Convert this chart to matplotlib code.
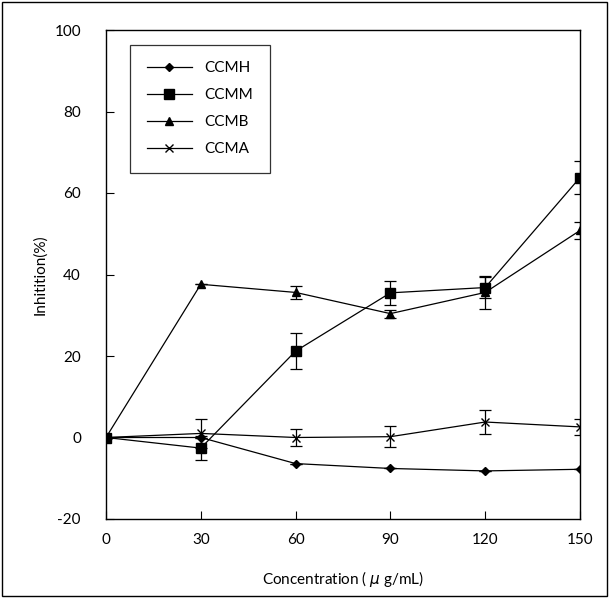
import matplotlib.pyplot as plt
from matplotlib.patches import Rectangle

conc = [0, 30, 60, 90, 120, 150]

ccmh = [0, 0, -6.4, -7.6, -8.2, -7.8]
ccmh_err = [0, 0, 0, 0, 0, 0]
ccmm = [0, -2.6, 21.2, 35.5, 36.8, 63.8]
ccmm_err = [0, 3.0, 4.5, 3.0, 2.5, 4.0]
ccmb = [0, 37.6, 35.6, 30.4, 35.6, 50.8]
ccmb_err = [0, 0, 1.5, 1.0, 4.0, 2.0]
ccma = [0, 1.0, 0, 0.2, 3.8, 2.6]
ccma_err = [0, 3.5, 2.0, 2.5, 3.0, 2.0]

x_ticks = [0, 30, 60, 90, 120, 150]
y_ticks = [-20, 0, 20, 40, 60, 80, 100]

plt.rcParams['font.family'] = ['Lato', 'DejaVu Sans']
plt.rcParams['axes.unicode_minus'] = False

fig = plt.figure(figsize=(6.09, 5.98), dpi=100)
ax = fig.add_axes([106 / 609, 1 - 519 / 598, 474 / 609, 489 / 598])

series = [
    ('CCMH', ccmh, ccmh_err, 'D', 4),
    ('CCMM', ccmm, ccmm_err, 's', 6.5),
    ('CCMB', ccmb, ccmb_err, '^', 6),
    ('CCMA', ccma, ccma_err, 'x', 6),
]
handles = []
for name, vals, err, mk, ms in series:
    ax.errorbar(conc, vals, yerr=err, fmt='none', ecolor='black',
                capsize=4, elinewidth=0.9, capthick=0.9)
    line, = ax.plot(conc, vals, color='black', lw=0.9, marker=mk,
                    markersize=ms, mew=1.0, label=name)
    handles.append(line)

ax.set_xlim(0, 150)
ax.set_ylim(-20, 100)
ax.set_xticks(x_ticks)
ax.set_yticks(y_ticks)
ax.tick_params(direction='in', length=6, width=0.8, labelsize=11)
ax.tick_params(axis='x', pad=10)
ax.tick_params(axis='y', pad=18)
for s in ax.spines.values():
    s.set_linewidth(1.0)
ax.set_xlabel('Concentration ( $\\mu$ g/mL)', fontsize=11, labelpad=16)
ax.set_ylabel('Inhitition(%)', fontsize=11, labelpad=5)

leg = ax.legend(handles=handles, loc='upper left', bbox_to_anchor=(0.05, 0.97),
                fontsize=11, frameon=True, fancybox=False, edgecolor='black',
                handlelength=3.0, handletextpad=0.8, labelspacing=0.85,
                borderpad=1.1, borderaxespad=0)
leg.get_frame().set_linewidth(0.9)

fig.patches.append(Rectangle((2 / 609, 2 / 598), 605 / 609, 594 / 598,
                             transform=fig.transFigure, fill=False,
                             edgecolor='black', lw=1.0))

fig.savefig('out.png', dpi=100)
